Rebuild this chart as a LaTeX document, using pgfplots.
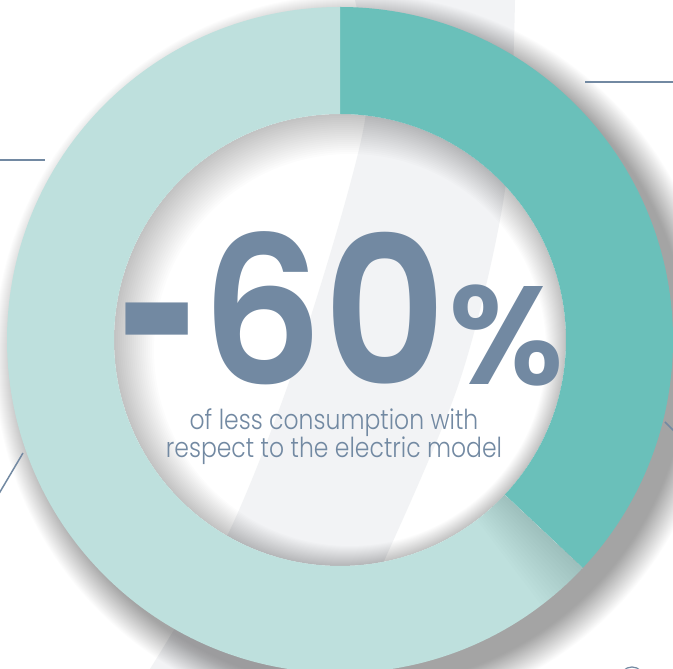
\documentclass[border=0pt]{standalone}
\usepackage{pgfplots}
\pgfplotsset{compat=1.18}
\usepackage{pgfplotstable}
\usepackage{fontspec}
\newfontfamily\boldfont{Poppins SemiBold}
\newfontfamily\lightfont{Poppins Light}
\definecolor{darkteal}{HTML}{6AC0BA}
\definecolor{lightteal}{HTML}{BEE0DD}
\definecolor{slate}{HTML}{7289A2}
\definecolor{bandgray}{HTML}{F2F3F5}

\pgfplotstableread{
label value
Reduction 37
Rest 63
}\donutdata

\begin{document}
\begin{tikzpicture}[x=1pt,y=1pt]
\pgfplotstablegetelem{0}{value}\of\donutdata \let\va\pgfplotsretval
\pgfplotstablegetelem{1}{value}\of\donutdata \let\vb\pgfplotsretval
\pgfmathsetmacro{\angA}{90-360*\va/(\va+\vb)}
% white page
\fill[white] (0,0) rectangle (673,669);
% background band
\fill[bandgray] plot[smooth] coordinates {(355,669) (365,549) (300,319) (230,139) (150,0)}
  -- plot[smooth] coordinates {(330,0) (380,99) (460,289) (505,479) (515,669)} -- cycle;
% outer drop shadow (towards lower right)
\foreach \i in {0,...,30}{
  \fill[black, opacity=0.011, even odd rule] (356,313) circle[radius={362-1*\i}] (340,329) circle[radius=300];
}
% inner shadow in the hole
\foreach \i in {1,...,20}{
  \fill[black, opacity=0.010, even odd rule] (340,329) circle[radius=226] ({340+0.5*\i},{329-0.5*\i}) circle[radius={226-1.5*\i}];
}
\begin{axis}[x=1pt, y=1pt, xmin=0, xmax=673, ymin=0, ymax=669,
  hide axis, anchor=origin, at={(0,0)}, clip=false]
\fill[darkteal] ([shift={(90:333pt)}]axis cs:340,329) arc[start angle=90, end angle=\angA, radius=333pt]
  -- ([shift={(\angA:226pt)}]axis cs:340,329) arc[start angle=\angA, end angle=90, radius=226pt] -- cycle;
\fill[lightteal] ([shift={(\angA:333pt)}]axis cs:340,329) arc[start angle=\angA, end angle=-270, radius=333pt]
  -- ([shift={(-270:226pt)}]axis cs:340,329) arc[start angle=-270, end angle=\angA, radius=226pt] -- cycle;
\end{axis}
% soft shadow of the dark segment on the light one
\foreach \i in {1,...,16}{
  \fill[black, opacity=0.008] ([shift={(\angA:333)}]340,329) arc[start angle=\angA, end angle={\angA-0.6*\i}, radius=333]
    -- ([shift={({\angA-0.6*\i}:226)}]340,329) arc[start angle={\angA-0.6*\i}, end angle=\angA, radius=226] -- cycle;
}
% central text
\node[anchor=base east, inner sep=0, text=slate, font=\boldfont\fontsize{210}{210}\selectfont] at (201,284)
  {\raisebox{-32pt}[81pt][0pt]{\scalebox{0.7}[1.3]{-}}};
\node[anchor=base east, inner sep=0, text=slate, xscale=0.93, font=\boldfont\fontsize{205}{205}\selectfont] at (447,284) {60};
\node[anchor=base west, inner sep=0, text=slate, font=\boldfont\fontsize{140}{140}\selectfont] at (448,284) {\%};
\node[anchor=base, inner sep=0, text=slate, align=center, font=\lightfont\fontsize{27.5}{28.5}\selectfont, xscale=0.855] at (334,211) {of less consumption with\\respect to the electric model};
% decorative lines
\draw[slate, line width=1.5pt] (585,587) -- (680,587);
\draw[slate, line width=1.5pt] (-5,509) -- (45,509);
\draw[slate, line width=1.5pt] (23,216) -- (-3,172);
\draw[slate, line width=1.5pt] (665,247) -- (678,234);
\draw[slate, line width=1.2pt] (632,-10) circle[radius=12];
\pgfresetboundingbox
\path (0,0) rectangle (673,669);
\end{tikzpicture}
\end{document}
